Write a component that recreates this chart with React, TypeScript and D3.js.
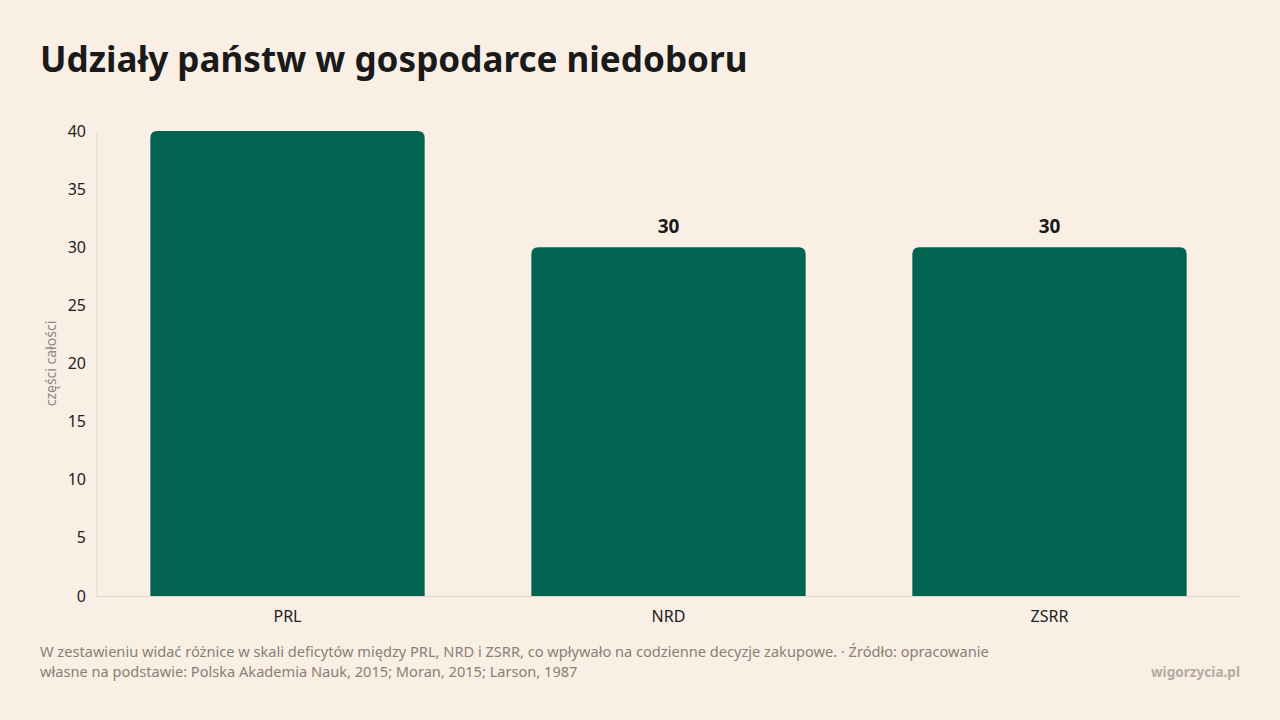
import React from "react";
import * as d3 from "d3";

const categories = ["PRL", "NRD", "ZSRR"];
const values = [40, 30, 30];
const yTicks = [0, 5, 10, 15, 20, 25, 30, 35, 40];
const title = "Udziały państw w gospodarce niedoboru";
const yLabel = "części całości";
const noteLines = [
  "W zestawieniu widać różnice w skali deficytów między PRL, NRD i ZSRR, co wpływało na codzienne decyzje zakupowe. · Źródło: opracowanie",
  "własne na podstawie: Polska Akademia Nauk, 2015; Moran, 2015; Larson, 1987",
];
const brand = "wigorzycia.pl";

const W = 1280;
const H = 720;
const left = 97;
const right = 1240;
const top = 131;
const bottom = 596;
const FONT = "'Noto Sans', 'Open Sans', sans-serif";

function topRoundedRect(x: number, y: number, w: number, h: number, r: number) {
  const rr = Math.min(r, h, w / 2);
  return `M${x},${y + h}V${y + rr}Q${x},${y} ${x + rr},${y}H${x + w - rr}Q${x + w},${y} ${x + w},${y + rr}V${y + h}Z`;
}

export default function App() {
  const x = d3.scaleBand<string>().domain(categories).range([left, right]).paddingInner(0.28).paddingOuter(0.14);
  const y = d3.scaleLinear().domain([0, 40]).range([bottom, top]);

  return (
    <svg width={W} height={H} style={{ display: "block", position: "absolute", left: 0, top: 0, background: "#f9efe5" }} fontFamily={FONT}>
      <rect x={0} y={0} width={W} height={H} fill="#f9efe5" />
      <text x={40} y={72} fontSize={35.1} fontWeight={700} fill="#1a1a1a">{title}</text>

      <line x1={left} x2={left} y1={top} y2={bottom} stroke="#e2d8cd" strokeWidth={1} />
      <line x1={left} x2={right} y1={bottom + 0.5} y2={bottom + 0.5} stroke="#e2d8cd" strokeWidth={1} />

      {yTicks.map((t) => (
        <text key={t} x={86} y={y(t)} dy="0.35em" textAnchor="end" fontSize={16} fill="#222">{t}</text>
      ))}

      <text transform={`translate(56,${(top + bottom) / 2}) rotate(-90)`} textAnchor="middle" fontSize={14} fill="#8f8680">{yLabel}</text>

      {categories.map((c, i) => {
        const bx = x(c)!;
        const bw = x.bandwidth();
        const by = y(values[i]);
        return (
          <g key={c}>
            <path d={topRoundedRect(bx, by, bw, bottom - by, 7)} fill="#006450" />
            {values[i] < 40 && (
              <text x={bx + bw / 2} y={by - 14} textAnchor="middle" fontSize={19} fontWeight={700} fill="#1a1a1a">{values[i]}</text>
            )}
            <text x={bx + bw / 2} y={622} textAnchor="middle" fontSize={16} fill="#222">{c}</text>
          </g>
        );
      })}

      {noteLines.map((l, i) => (
        <text key={i} x={40} y={657 + i * 20} fontSize={14.6} fill="#8a7f75">{l}</text>
      ))}
      <text x={1240} y={677} textAnchor="end" fontSize={13.6} fontWeight={700} fill="#b5aba0">{brand}</text>
    </svg>
  );
}
